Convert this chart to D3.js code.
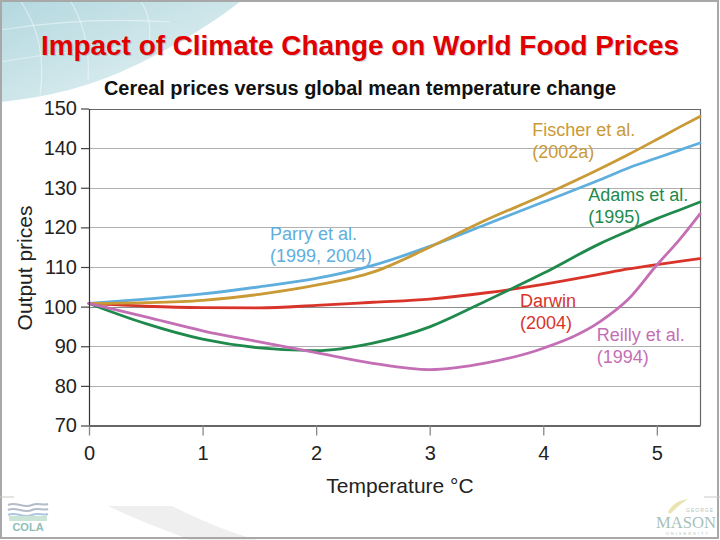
<!DOCTYPE html>
<html>
<head>
<meta charset="utf-8">
<script src="https://cdn.jsdelivr.net/npm/d3@7"></script>
<style>
  html, body { margin: 0; padding: 0; background: #fff; }
  svg { display: block; font-family: "Liberation Sans", Arial, Helvetica, sans-serif; }
</style>
</head>
<body>
<svg id="chart" width="720" height="540"></svg>
<script>
// ---------------- data ----------------
const temps   = [0, 0.5, 1, 1.5, 2, 2.5, 3, 3.5, 4, 4.5, 4.75, 5, 5.2, 5.38];
const parry   = [100.8, 101.9, 103.2, 105.0, 107.1, 110.4, 115.2, 120.8, 126.4, 132.0, 135.0, 137.5, 139.5, 141.3];
const fischer = [100.8, 101.0, 101.6, 103.1, 105.4, 108.7, 115.0, 121.9, 128.1, 134.8, 138.4, 142.2, 145.3, 148.0];
const darwin  = [100.8, 100.1, 99.75, 99.7, 100.3, 101.1, 101.9, 103.5, 105.6, 108.2, 109.5, 110.6, 111.4, 112.1];
const adams   = [100.8, 95.7, 91.8, 89.6, 88.9, 90.8, 94.9, 101.5, 108.4, 115.9, 119.1, 122.2, 124.4, 126.4];
const reilly  = [100.8, 97.4, 93.9, 91.1, 88.4, 85.7, 84.1, 85.8, 89.5, 96.2, 101.9, 110.5, 116.9, 123.4];

const seriesNames  = ["Darwin", "Parry", "Fischer", "Adams", "Reilly"];
const seriesValues = [darwin, parry, fischer, adams, reilly];
const seriesColors = ["#d8342a", "#5eaede", "#c99a36", "#1f8a4c", "#c46fb5"];

const xTicks = [0, 1, 2, 3, 4, 5];
const yTicks = [70, 80, 90, 100, 110, 120, 130, 140, 150];

// label annotations (anchored in data units)
const labelLines = [["Fischer et al.", "(2002a)"], ["Adams et al.", "(1995)"], ["Parry et al.", "(1999, 2004)"], ["Darwin", "(2004)"], ["Reilly et al.", "(1994)"]];
const labelT     = [3.903, 4.396, 1.594, 3.795, 4.47];
const labelV     = [143.0, 126.6, 116.8, 99.9, 91.2];
const labelColor = ["#c99a36", "#1f8a4c", "#5eaede", "#d8342a", "#c46fb5"];

const titleText    = "Impact of Climate Change on World Food Prices";
const subtitleText = "Cereal prices versus global mean temperature change";
const xTitle = "Temperature °C";
const yTitle = "Output prices";

// ---------------- drawing ----------------
const svg = d3.select("#chart");
const defs = svg.append("defs");

const g1 = defs.append("linearGradient").attr("id", "teal").attr("x1", "0").attr("y1", "0").attr("x2", "1").attr("y2", "1");
g1.append("stop").attr("offset", "0%").attr("stop-color", "#b3d8df");
g1.append("stop").attr("offset", "55%").attr("stop-color", "#d0e7eb");
g1.append("stop").attr("offset", "100%").attr("stop-color", "#f2f8f9");

svg.append("rect").attr("x", 0).attr("y", 0).attr("width", 720).attr("height", 540).attr("fill", "#fff");
svg.append("path")
  .attr("d", "M0,0 H242 C215,22 170,50 125,70 C90,86 50,97 0,102 Z")
  .attr("fill", "url(#teal)");
const deco = svg.append("g").attr("fill", "none").attr("stroke", "#ffffff").attr("stroke-opacity", 0.45).attr("stroke-width", 1.2);
deco.append("path").attr("d", "M20,0 C40,30 45,60 40,95");
deco.append("path").attr("d", "M70,0 C85,25 90,50 88,80");
deco.append("path").attr("d", "M0,30 C50,22 110,18 170,22");
deco.append("path").attr("d", "M0,62 C40,55 80,50 120,48");
deco.append("path").attr("d", "M140,0 C150,15 152,30 148,50");

// bottom swoosh
svg.append("path").attr("d", "M108,506 L172,506 C200,520 228,532 258,540 L190,540 C160,528 132,518 108,506 Z").attr("fill", "#efefef");

// COLA logo
const cola = svg.append("g").attr("opacity", 0.75);
[0, 5, 10].forEach((d, i) => {
  cola.append("path")
    .attr("d", `M8,${505 + d} C16,${501 + d} 24,${509 + d} 32,${505 + d} C38,${502 + d} 44,${506 + d} 48,${504 + d}`)
    .attr("fill", "none").attr("stroke", i === 2 ? "#8fb4d4" : "#9aa8b8").attr("stroke-width", 2);
});
cola.append("rect").attr("x", 9).attr("y", 516).attr("width", 38).attr("height", 5).attr("fill", "#b9dcc8");
cola.append("text").attr("x", 28).attr("y", 531).attr("text-anchor", "middle")
  .attr("font-size", 11).attr("font-weight", "bold").attr("fill", "#6aa8a0").text("COLA");

// Mason logo
const gmu = svg.append("g").attr("opacity", 0.55);
gmu.append("path").attr("d", "M668,512 C672,504 680,500 688,499 C682,503 676,508 670,514 Z").attr("fill", "#d8cf70");
gmu.append("text").attr("x", 700).attr("y", 512).attr("text-anchor", "middle").attr("font-size", 5).attr("letter-spacing", 1).attr("fill", "#6b8f80").text("GEORGE");
gmu.append("text").attr("x", 656).attr("y", 528).attr("font-size", 17)
  .attr("textLength", 60).attr("lengthAdjust", "spacingAndGlyphs")
  .attr("font-family", "'Liberation Serif', 'DejaVu Serif', serif").attr("fill", "#5f8f7c").text("MASON");
gmu.append("text").attr("x", 688).attr("y", 535).attr("text-anchor", "middle").attr("font-size", 4).attr("letter-spacing", 2).attr("fill", "#6b8f80").text("UNIVERSITY");

// slide border
svg.append("rect").attr("x", 1).attr("y", 1).attr("width", 717).attr("height", 537)
  .attr("fill", "none").attr("stroke", "#a8a8a8").attr("stroke-width", 2);
svg.append("line").attr("x1", 0).attr("x2", 14).attr("y1", 497).attr("y2", 497).attr("stroke", "#c8c8c8");
svg.append("line").attr("x1", 704).attr("x2", 720).attr("y1", 497).attr("y2", 497).attr("stroke", "#c8c8c8");

// titles
svg.append("text").attr("x", 361).attr("y", 56).attr("text-anchor", "middle")
  .attr("font-size", 27).attr("font-weight", "bold").attr("fill", "#777").attr("opacity", 0.35)
  .attr("textLength", 638).attr("lengthAdjust", "spacingAndGlyphs").text(titleText);
svg.append("text").attr("x", 360).attr("y", 55).attr("text-anchor", "middle")
  .attr("font-size", 27).attr("font-weight", "bold").attr("fill", "#e00000")
  .attr("textLength", 638).attr("lengthAdjust", "spacingAndGlyphs").text(titleText);
svg.append("text").attr("x", 360).attr("y", 95).attr("text-anchor", "middle")
  .attr("font-size", 19.5).attr("font-weight", "bold").attr("fill", "#111")
  .attr("textLength", 512).attr("lengthAdjust", "spacingAndGlyphs").text(subtitleText);

// scales
const x = d3.scaleLinear().domain([0, 5.38]).range([89, 700]);
const y = d3.scaleLinear().domain([70, 150]).range([425.5, 108.5]);

// gridlines
svg.append("g").selectAll("line").data(yTicks.filter(v => v > 70 && v < 150)).join("line")
  .attr("x1", x(0)).attr("x2", x(5.38))
  .attr("y1", d => Math.round(y(d)) + 0.5).attr("y2", d => Math.round(y(d)) + 0.5)
  .attr("stroke", d => d === 100 ? "#8c8c8c" : "#b0b0b0").attr("stroke-width", 1);

// frame top & right
svg.append("path")
  .attr("d", `M${x(0)},${Math.round(y(150)) + 0.5} H${Math.round(x(5.38)) + 0.5} V${y(70)}`)
  .attr("fill", "none").attr("stroke", "#666").attr("stroke-width", 1.2);

// series lines
const line = d3.line().x((d, i) => x(temps[i])).y(d => y(d)).curve(d3.curveMonotoneX);
svg.append("g").selectAll("path").data(seriesValues).join("path")
  .attr("d", d => line(d))
  .attr("fill", "none")
  .attr("stroke", (d, i) => seriesColors[i])
  .attr("stroke-width", 2.8)
  .attr("stroke-linejoin", "round").attr("stroke-linecap", "round");

// axes
const yAxis = svg.append("g").attr("transform", `translate(${x(0)},0)`)
  .call(d3.axisLeft(y).tickValues(yTicks).tickSize(8).tickSizeOuter(0).tickPadding(4));
yAxis.select(".domain").attr("stroke", "#333").attr("stroke-width", 1.2);
yAxis.selectAll(".tick line").attr("stroke", "#444").attr("stroke-width", 1.2);
yAxis.selectAll(".tick text").attr("font-size", 20).attr("fill", "#222")
  .attr("font-family", "'Liberation Sans', Arial, sans-serif");

const xAxis = svg.append("g").attr("transform", `translate(0,${y(70)})`)
  .call(d3.axisBottom(x).tickValues(xTicks).tickSize(10).tickSizeOuter(0).tickPadding(10).tickFormat(d3.format("d")));
xAxis.select(".domain").attr("stroke", "#333").attr("stroke-width", 1.4);
xAxis.selectAll(".tick line").attr("stroke", "#888").attr("stroke-width", 1.3);
xAxis.selectAll(".tick text").attr("font-size", 20).attr("fill", "#222")
  .attr("font-family", "'Liberation Sans', Arial, sans-serif");

// axis titles
svg.append("text").attr("transform", "translate(32,268) rotate(-90)").attr("text-anchor", "middle")
  .attr("font-size", 21).attr("fill", "#222").text(yTitle);
svg.append("text").attr("x", 400).attr("y", 493).attr("text-anchor", "middle")
  .attr("font-size", 21).attr("fill", "#222").text(xTitle);

// series labels
const lg = svg.append("g");
labelLines.forEach((lines, i) => {
  lines.forEach((t, j) => {
    lg.append("text").attr("x", x(labelT[i])).attr("y", y(labelV[i]) + j * 21.5)
      .attr("font-size", 18).attr("fill", labelColor[i]).text(t);
  });
});
</script>
</body>
</html>
